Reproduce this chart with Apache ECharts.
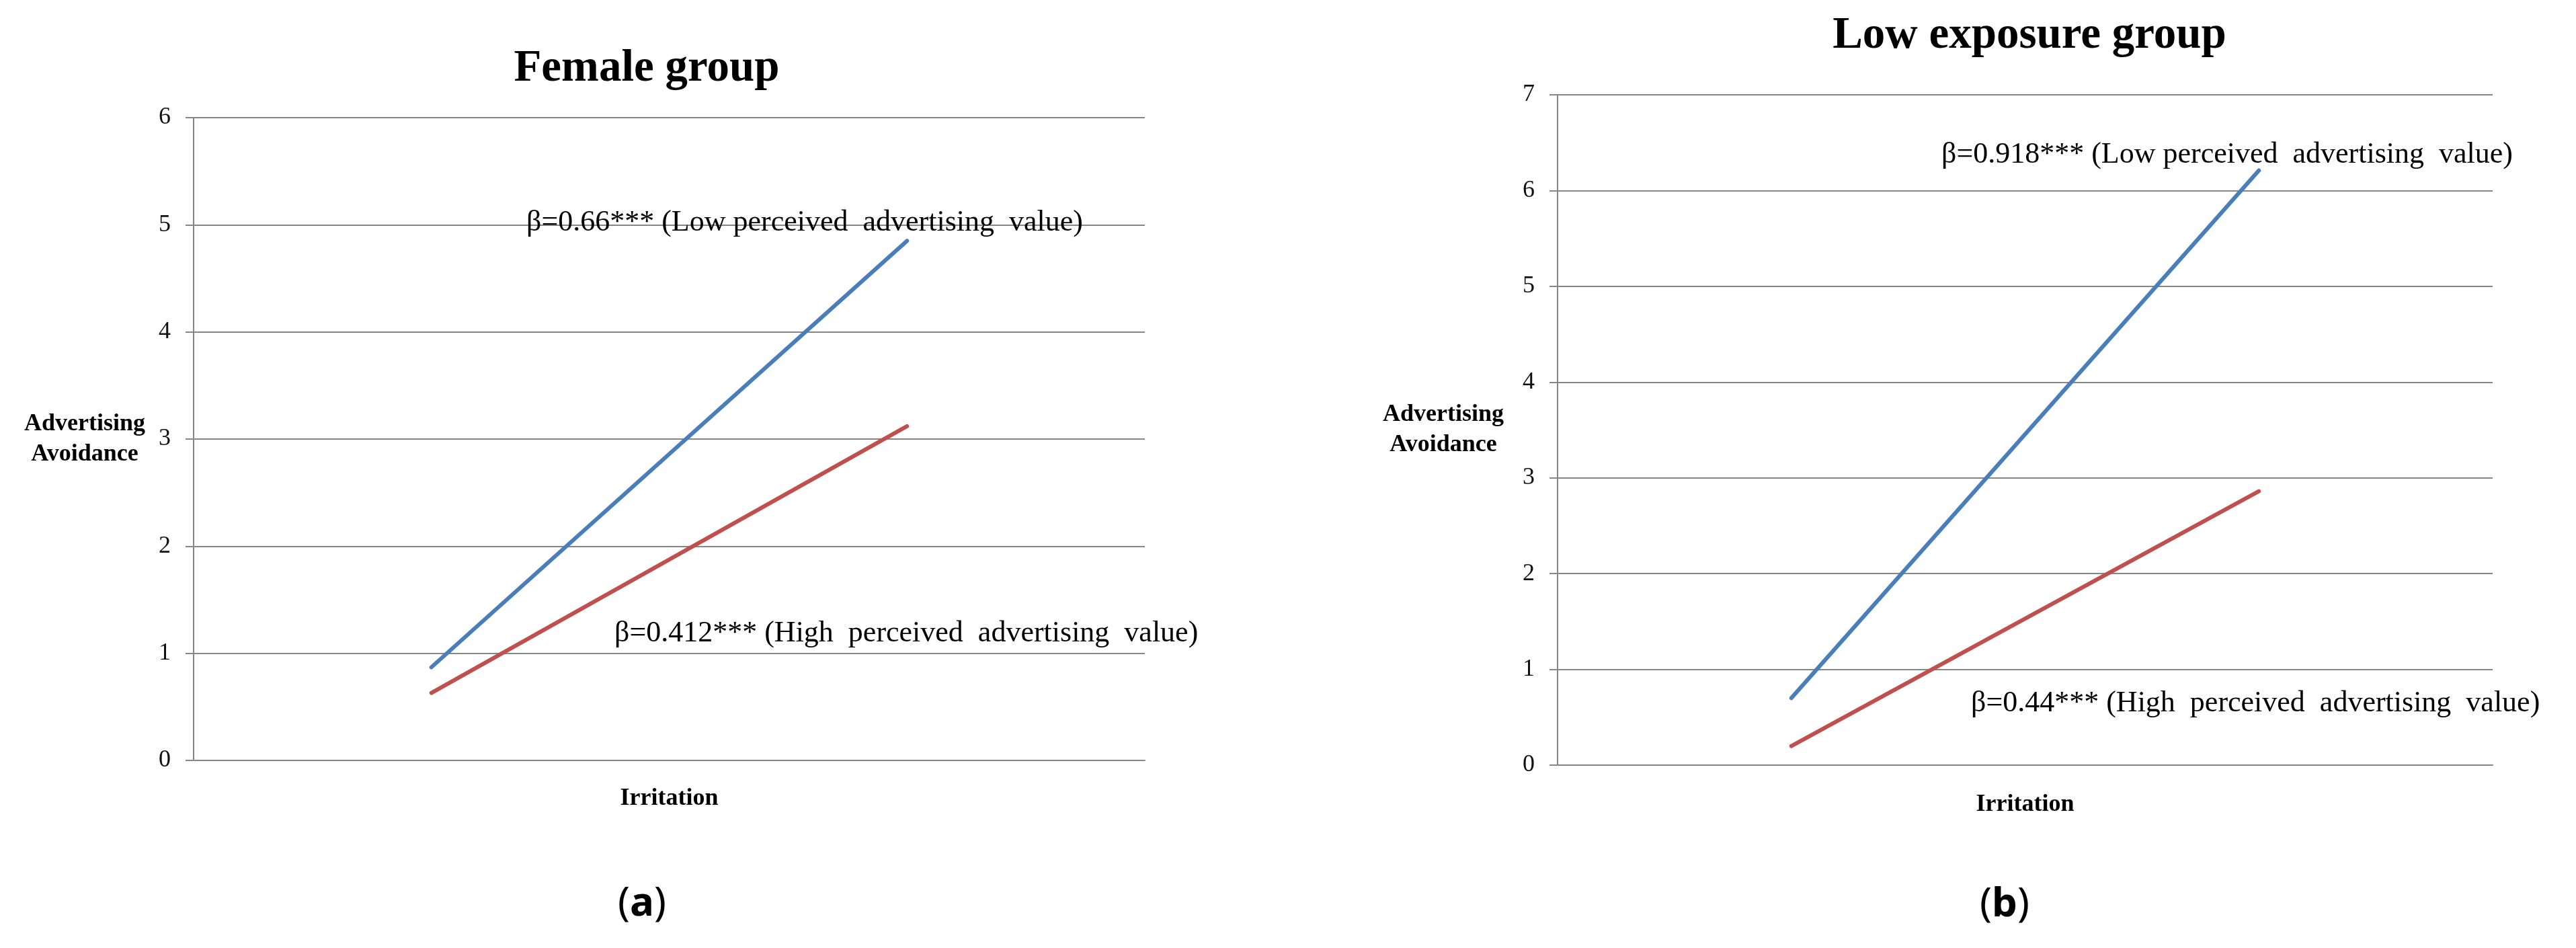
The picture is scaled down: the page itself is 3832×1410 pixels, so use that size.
<!DOCTYPE html>
<html>
<head>
<meta charset="utf-8">
<title>Advertising avoidance</title>
<script src="https://cdn.jsdelivr.net/npm/echarts@6/dist/echarts.min.js"></script>
<style>
  html, body { margin: 0; padding: 0; background: #fff; }
  #chart { width: 3832px; height: 1410px; }
</style>
</head>
<body>
<div id="chart"></div>
<script>
// x axis: irritation level (two points per line)
const categories = ["Low", "High"];

// (a) Female group
const femaleLowValue = [0.87, 4.85];
const femaleHighValue = [0.63, 3.12];

// (b) Low exposure group
const exposureLowValue = [0.7, 6.21];
const exposureHighValue = [0.2, 2.86];

// y axis ranges
const femaleMax = 6;
const exposureMax = 7;

// texts
const titles = ["Female group", "Low exposure group"];
const panelLabels = ["a", "b"];
const femaleNotes = [
  "β=0.66*** (Low perceived  advertising  value)",
  "β=0.412*** (High  perceived  advertising  value)",
];
const exposureNotes = [
  "β=0.918*** (Low perceived  advertising  value)",
  "β=0.44*** (High  perceived  advertising  value)",
];

const serif = '"Liberation Serif", "Times New Roman", serif';
const gridColor = "#868686";
const blue = "#4a7ebb";
const red = "#c0504d";

function xAxisFor(gridIndex, gap) {
  return {
    type: "category",
    gridIndex: gridIndex,
    data: categories,
    boundaryGap: true,
    axisLabel: { show: false },
    axisTick: { show: false },
    axisLine: { lineStyle: { color: gridColor, width: 2 } },
    name: "Irritation",
    nameLocation: "middle",
    nameGap: gap,
    nameTextStyle: {
      fontFamily: serif,
      fontWeight: "bold",
      fontSize: 36,
      color: "#000",
      verticalAlign: "middle",
    },
  };
}

function yAxisFor(gridIndex, max, gap) {
  return {
    type: "value",
    gridIndex: gridIndex,
    min: 0,
    max: max,
    interval: 1,
    axisLine: { show: true, lineStyle: { color: gridColor, width: 2 } },
    axisTick: { show: true, length: 12, lineStyle: { color: gridColor, width: 2 } },
    splitLine: { lineStyle: { color: gridColor, width: 2 } },
    axisLabel: { fontFamily: serif, fontSize: 36, color: "#111", margin: 34 },
    name: "Advertising\nAvoidance",
    nameLocation: "middle",
    nameRotate: 0,
    nameGap: gap,
    nameTextStyle: {
      fontFamily: serif,
      fontWeight: "bold",
      fontSize: 36,
      lineHeight: 45,
      color: "#000",
      align: "center",
      verticalAlign: "middle",
    },
  };
}

function lineSeries(name, data, color, index) {
  return {
    name: name,
    type: "line",
    xAxisIndex: index,
    yAxisIndex: index,
    data: data,
    symbol: "none",
    lineStyle: { color: color, width: 6, cap: "round" },
    itemStyle: { color: color },
    animation: false,
  };
}

function note(text, x, y) {
  return {
    type: "text",
    x: x,
    y: y,
    z: 10,
    style: {
      text: text,
      font: "normal 44px " + serif,
      fill: "#000",
      align: "left",
      verticalAlign: "middle",
    },
  };
}

function heading(text, x, y) {
  return {
    type: "text",
    x: x,
    y: y,
    style: {
      text: text,
      font: "bold 67px " + serif,
      fill: "#000",
      align: "center",
      verticalAlign: "middle",
    },
  };
}

function panelLabel(letter, x, y) {
  return {
    type: "text",
    x: x,
    y: y,
    style: {
      text: "(" + "{b|" + letter + "})",
      font: "normal 60px 'Noto Sans'",
      fill: "#000",
      align: "center",
      verticalAlign: "middle",
      rich: {
        b: { fontFamily: "Noto Sans", fontWeight: "bold", fontSize: 60, fill: "#000" },
      },
    },
  };
}

const myChart = echarts.init(document.getElementById("chart"));

const option = {
  backgroundColor: "#fff",
  animation: false,
  grid: [
    { left: 288, top: 175, width: 1415, height: 956 },
    { left: 2317, top: 141, width: 1391, height: 997 },
  ],
  xAxis: [xAxisFor(0, 57), xAxisFor(1, 59)],
  yAxis: [yAxisFor(0, femaleMax, 162), yAxisFor(1, exposureMax, 170)],
  series: [
    lineSeries("Low perceived advertising value", femaleLowValue, blue, 0),
    lineSeries("High perceived advertising value", femaleHighValue, red, 0),
    lineSeries("Low perceived advertising value", exposureLowValue, blue, 1),
    lineSeries("High perceived advertising value", exposureHighValue, red, 1),
  ],
  graphic: [
    heading(titles[0], 962, 103),
    heading(titles[1], 3019, 54),
    note(femaleNotes[0], 783, 331),
    note(femaleNotes[1], 914, 942),
    note(exposureNotes[0], 2888, 230),
    note(exposureNotes[1], 2932, 1046),
    panelLabel(panelLabels[0], 955, 1345),
    panelLabel(panelLabels[1], 2982, 1346),
  ],
};

myChart.setOption(option);
</script>
</body>
</html>
